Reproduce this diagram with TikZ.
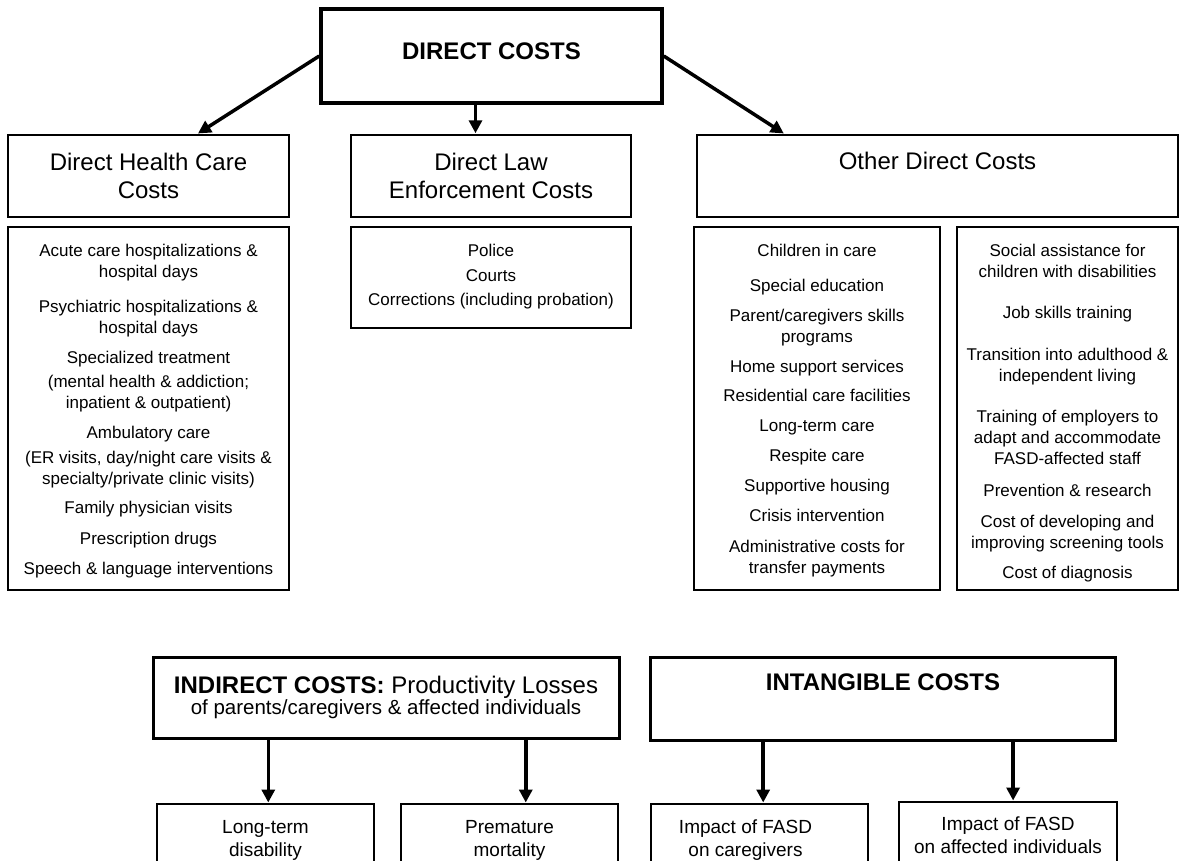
\documentclass[tikz,border=0pt]{standalone}
\usepackage{fontspec}
\setmainfont{Liberation Sans}
\usetikzlibrary{arrows.meta,calc,positioning}

\begin{document}
\begin{tikzpicture}[x=1pt,y=-1pt,>={Triangle[length=13pt,width=13pt]}]

    \tikzstyle{commonNode}=[draw=black, align=center, inner sep=0pt]
    \tikzstyle{topBox}=[commonNode, line width=3.5pt, font=\fontsize{24}{28}\selectfont\bfseries]
    \tikzstyle{header}=[commonNode, line width=2.5pt, font=\fontsize{24}{28}\selectfont]
    \tikzstyle{listBox}=[commonNode, line width=1.5pt]
    \tikzstyle{listText}=[align=center, inner sep=0pt, font=\fontsize{17}{21}\selectfont]
    \tikzstyle{bigBox}=[commonNode, line width=3pt, font=\fontsize{24}{24}\selectfont]
    \tikzstyle{leafBox}=[commonNode, line width=2pt, anchor=north, minimum width=217pt, minimum height=120pt]
    \tikzstyle{leafText}=[align=center, inner sep=0pt, font=\fontsize{19}{23}\selectfont]
    \tikzstyle{link}=[->, line width=3.5pt, shorten >=0.5pt]

    \useasboundingbox (0,0) rectangle (1183,860);
    \clip (0,0) rectangle (1183,860);

    % Direct costs
    \node at (491.5,56) [topBox, minimum width=341pt, minimum height=94pt, text depth=10pt] (dc) {DIRECT COSTS};

    % Headers
    \node at (148.5,176) [header, minimum width=281pt, minimum height=82pt] (hl) {Direct Health Care\\Costs};
    \node at (491,176)   [header, minimum width=280pt, minimum height=82pt] (law) {Direct Law\\Enforcement Costs};
    \node at (937.5,176) [header, minimum width=481pt, minimum height=82pt, text depth=31pt] (od) {Other Direct Costs};

    % Lists
    \node at (148.5,408.5) [listBox, minimum width=281pt, minimum height=363pt] (hlList) {};
    \node [listText, below=18pt of hlList.north] (hlItems) {Acute care hospitalizations \&\\hospital days\\[14pt]
        Psychiatric hospitalizations \&\\hospital days\\[9pt]
        Specialized treatment\\[3pt]
        (mental health \& addiction;\\inpatient \& outpatient)\\[9pt]
        Ambulatory care\\[4pt]
        (ER visits, day/night care visits \&\\specialty/private clinic visits)\\[8pt]
        Family physician visits\\[10pt]
        Prescription drugs\\[9pt]
        Speech \& language interventions};

    \node at (491,277.5) [listBox, minimum width=280pt, minimum height=101pt] (lawList) {};
    \node [listText, below=18pt of lawList.north] (lawItems) {Police\\[3.5pt]Courts\\[3.5pt]Corrections (including probation)};

    \node at (817,408.5) [listBox, minimum width=246pt, minimum height=363pt] (odList) {};
    \node [listText, below=18pt of odList.north] (odItems) {Children in care\\[14pt]
        Special education\\[9pt]
        Parent/caregivers skills\\programs\\[9pt]
        Home support services\\[8pt]
        Residential care facilities\\[9pt]
        Long-term care\\[9pt]
        Respite care\\[9pt]
        Supportive housing\\[9pt]
        Crisis intervention\\[10pt]
        Administrative costs for\\transfer payments};

    \node at (1067.5,408.5) [listBox, minimum width=221pt, minimum height=363pt] (osList) {};
    \node [listText, below=18pt of osList.north] (osItems) {Social assistance for\\children with disabilities\\[20pt]
        Job skills training\\[21pt]
        Transition into adulthood \&\\independent living\\[20pt]
        Training of employers to\\adapt and accommodate\\FASD-affected staff\\[11pt]
        Prevention \& research\\[10pt]
        Cost of developing and\\improving screening tools\\[9pt]
        Cost of diagnosis};

    % Indirect and intangible costs
    \node at (386,697.5) [bigBox, minimum width=466pt, minimum height=81pt] (ind)
        {\textbf{INDIRECT COSTS:} Productivity Losses\\[-2.5pt]{\fontsize{20.5}{21.5}\selectfont of parents/caregivers \& affected individuals}};
    \node at (883,698.5) [bigBox, minimum width=465pt, minimum height=83pt, text depth=32pt, font=\fontsize{24}{24}\selectfont\bfseries] (int) {INTANGIBLE COSTS};

    \node at (265.5,803) [leafBox] (ltdBox) {};
    \node [leafText, below=17pt of ltdBox.north] (ltd) {Long-term\\disability};
    \node at (509.5,803) [leafBox] (pmBox) {};
    \node [leafText, below=17pt of pmBox.north] (pm) {Premature\\mortality};
    \node at (759.5,803) [leafBox] (cgBox) {};
    \node [leafText, below=17pt of cgBox.north, xshift=-14pt] (cg) {Impact of FASD\\on caregivers};
    \node at (1008,801) [leafBox, minimum width=218pt] (aiBox) {};
    \node [leafText, below=16pt of aiBox.north] (ai) {Impact of FASD\\on affected individuals};

    % Connectors
    \coordinate (hlIn) at ($(hl.north west)!0.673!(hl.north east)$);
    \coordinate (odIn) at ($(od.north west)!0.183!(od.north east)$);
    \coordinate (dcOut) at ($(dc.south)+(-16,0)$);
    \draw [link] (dc.west) -- (hlIn);
    \draw [link] (dcOut) -- (dcOut |- law.north);
    \draw [link] (dc.east) -- (odIn);

    \coordinate (indA) at ($(ind.south west)!0.249!(ind.south east)$);
    \coordinate (indB) at ($(ind.south west)!0.798!(ind.south east)$);
    \coordinate (intA) at ($(int.south west)!0.244!(int.south east)$);
    \coordinate (intB) at ($(int.south west)!0.778!(int.south east)$);
    \draw [link] (indA) -- (indA |- ltdBox.north);
    \draw [link] (indB) -- (indB |- pmBox.north);
    \draw [link] (intA) -- (intA |- cgBox.north);
    \draw [link] (intB) -- (intB |- aiBox.north);

\end{tikzpicture}
\end{document}
